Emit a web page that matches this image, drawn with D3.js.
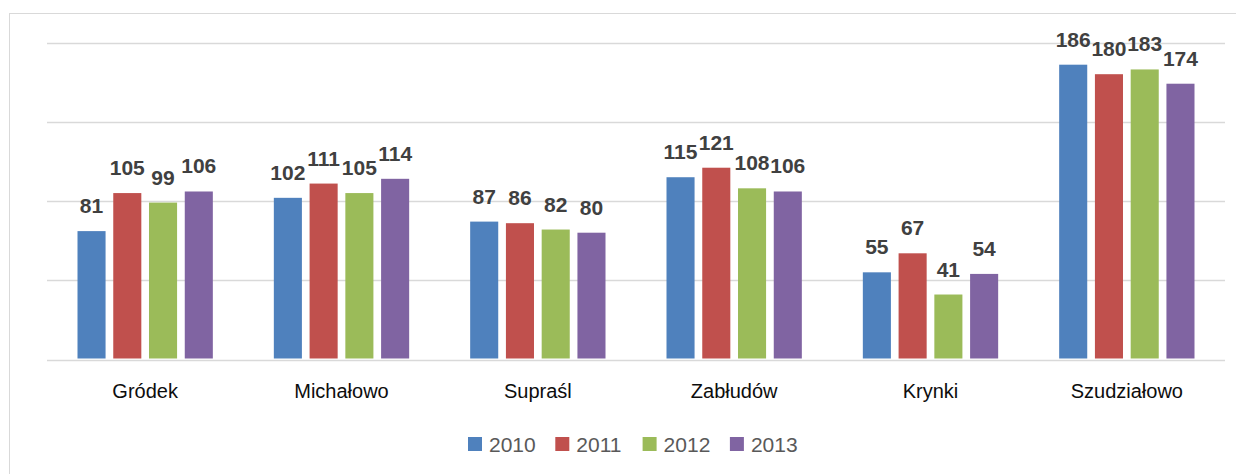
<!DOCTYPE html>
<html>
<head>
<meta charset="utf-8">
<script src="https://cdn.jsdelivr.net/npm/d3@7"></script>
<style>
  body { margin: 0; background: #fff; }
  svg { display: block; font-family: "Liberation Sans", Arial, sans-serif; }
</style>
</head>
<body>
<div id="chart"></div>
<script>
// data
var gminy = ["Gródek", "Michałowo", "Supraśl", "Zabłudów", "Krynki", "Szudziałowo"];
var lata = ["2010", "2011", "2012", "2013"];
var v2010 = [81, 102, 87, 115, 55, 186];
var v2011 = [105, 111, 86, 121, 67, 180];
var v2012 = [99, 105, 82, 108, 41, 183];
var v2013 = [106, 114, 80, 106, 54, 174];
var yTicks = [0, 50, 100, 150, 200];
var kolory = ["#4F81BD", "#C0504D", "#9BBB59", "#8064A2"];

var serie = [v2010, v2011, v2012, v2013];

var width = 1236, height = 474;
var svg = d3.select("#chart").append("svg")
  .attr("width", width)
  .attr("height", height);

// chart frame (runs off the right and bottom edge)
svg.append("rect")
  .attr("x", 9.5).attr("y", 13.5)
  .attr("width", 1240).attr("height", 480)
  .attr("fill", "none")
  .attr("stroke", "#d9d9d9");

var x = d3.scaleBand()
  .domain(gminy)
  .range([47, 1225]);

var xs = d3.scaleBand()
  .domain(lata)
  .range([30.5, x.bandwidth() - 30.5])
  .paddingInner(0.215);

var y = d3.scaleLinear()
  .domain([0, 200])
  .range([359.5, 42.5]);

// gridlines
svg.append("g")
  .selectAll("line")
  .data(yTicks)
  .enter()
  .append("line")
  .attr("x1", 47).attr("x2", 1225)
  .attr("y1", function(d) { return Math.round(y(d)) + 0.5; })
  .attr("y2", function(d) { return Math.round(y(d)) + 0.5; })
  .attr("stroke", "#d9d9d9")
  .attr("stroke-width", 1.3);

var groups = svg.append("g")
  .selectAll("g")
  .data(gminy)
  .enter()
  .append("g")
  .attr("transform", function(d) { return "translate(" + x(d) + ",0)"; });

var cells = groups.selectAll("g")
  .data(function(d, i) {
    return lata.map(function(rok, j) { return {rok: rok, val: serie[j][i], k: j}; });
  })
  .enter()
  .append("g");

cells.append("rect")
  .attr("x", function(d) { return xs(d.rok); })
  .attr("width", xs.bandwidth())
  .attr("y", function(d) { return y(d.val); })
  .attr("height", function(d) { return y(0) - y(d.val) - 1; })
  .attr("fill", function(d) { return kolory[d.k]; });

cells.append("text")
  .attr("x", function(d) { return xs(d.rok) + xs.bandwidth() / 2; })
  .attr("y", function(d) { return y(d.val) - 18; })
  .attr("text-anchor", "middle")
  .style("font-size", "21px")
  .style("font-weight", "bold")
  .attr("fill", "#404040")
  .text(function(d) { return d.val; });

// category labels
svg.append("g")
  .selectAll("text")
  .data(gminy)
  .enter()
  .append("text")
  .attr("x", function(d) { return x(d) + x.bandwidth() / 2; })
  .attr("y", 398)
  .attr("text-anchor", "middle")
  .style("font-size", "20px")
  .attr("fill", "#0d0d0d")
  .text(function(d) { return d; });

// legend
var leg = svg.append("g")
  .selectAll("g")
  .data(lata)
  .enter()
  .append("g")
  .attr("transform", function(d, i) { return "translate(" + (468 + i * 87.3) + ",0)"; });

leg.append("rect")
  .attr("y", 437)
  .attr("width", 14).attr("height", 14)
  .attr("fill", function(d, i) { return kolory[i]; });

leg.append("text")
  .attr("x", 21)
  .attr("y", 452)
  .style("font-size", "21px")
  .attr("fill", "#595959")
  .text(function(d) { return d; });
</script>
</body>
</html>
